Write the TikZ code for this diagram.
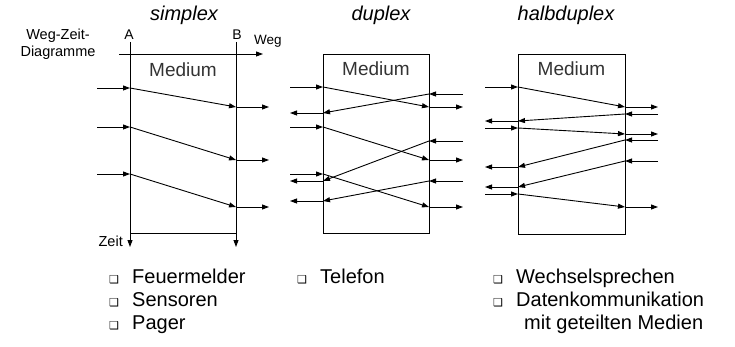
\documentclass[tikz,border=0pt]{standalone}
\usepackage{fontspec}
\setmainfont{Liberation Sans}
\newfontfamily\symfont{DejaVu Sans}
\usetikzlibrary{arrows.meta}
\newcommand\cb{{\symfont\fontsize{11}{11}\selectfont ❑}}
\begin{document}
\begin{tikzpicture}[x=1pt,y=-1pt,
  txt/.style={inner sep=0pt, anchor=base},
  ar/.style={line width=0.9pt, -{Triangle[length=7pt,width=5pt]}},
  ln/.style={line width=0.9pt},
  box/.style={draw, line width=0.9pt},
  title/.style={txt, font=\fontsize{20}{20}\selectfont\itshape},
  med/.style={txt, font=\fontsize{19}{19}\selectfont, text=black!80},
  lab/.style={txt, font=\fontsize{14.5}{14.5}\selectfont},
  item/.style={txt, anchor=base west, font=\fontsize{20}{20}\selectfont},
  chk/.style={txt, anchor=base west}]
\useasboundingbox (0,0) rectangle (735,347);

% titles
\node[title] (t1) at (184,21) {simplex};
\node[title] (t2) at (381,21) {duplex};
\node[title] (t3) at (566,21) {halbduplex};

% Weg-Zeit-Diagramme
\node[lab] (wz1) at (58,40) {Weg-Zeit-};
\node[lab] (wz2) at (58,57) {Diagramme};
\node[lab, font=\fontsize{14}{14}\selectfont] (la) at (129,40) {A};
\node[lab, font=\fontsize{14}{14}\selectfont] (lb) at (237,40) {B};
\node[lab, anchor=base west, font=\fontsize{13.5}{13.5}\selectfont] (lw) at (254,45) {Weg};
\node[lab, anchor=base east] (lz) at (123,246) {Zeit};

% simplex frame
\coordinate (Atop) at (130,42); \coordinate (Abot) at (130,247);
\coordinate (Btop) at (236,42); \coordinate (Bbot) at (236,247);
\coordinate (Wl) at (119,54); \coordinate (Wr) at (263,54);
\coordinate (Ab) at (130,233); \coordinate (Bb) at (236,233);
\draw[ar] (Atop) -- (Abot);
\draw[ar] (Btop) -- (Bbot);
\draw[ar] (Wl) -- (Wr);
\draw[ln] (Ab) -- (Bb);
\node[med] (m1) at (183,77) {Medium};

% simplex arrows
\foreach \i/\ya/\yb in {1/88/107, 2/127/160, 3/174/207}{
  \coordinate (s\i a) at (97,\ya); \coordinate (s\i b) at (130,\ya);
  \coordinate (s\i c) at (236,\yb); \coordinate (s\i d) at (269,\yb);
  \draw[ar] (s\i a) -- (s\i b);
  \draw[ar] (s\i b) -- (s\i c);
  \draw[ar] (s\i c) -- (s\i d);
}

% duplex
\node[box, minimum width=106pt, minimum height=179pt, anchor=north west, inner sep=0] (d) at (323,54) {};
\node[med] (m2) at (376,76) {Medium};
\foreach \i/\ya/\yb in {1/87/107, 2/127/160, 3/174/207}{
  \coordinate (dl\i a) at (290,\ya); \coordinate (dl\i b) at (323,\ya);
  \coordinate (dl\i c) at (429,\yb); \coordinate (dl\i d) at (463,\yb);
  \draw[ar] (dl\i a) -- (dl\i b);
  \draw[ar] (dl\i b) -- (dl\i c);
  \draw[ar] (dl\i c) -- (dl\i d);
}
\foreach \i/\ya/\yb in {1/94/113, 2/141/181, 3/181/201}{
  \coordinate (dr\i a) at (463,\ya); \coordinate (dr\i b) at (429,\ya);
  \coordinate (dr\i c) at (323,\yb); \coordinate (dr\i d) at (290,\yb);
  \draw[ar] (dr\i a) -- (dr\i b);
  \draw[ar] (dr\i b) -- (dr\i c);
  \draw[ar] (dr\i c) -- (dr\i d);
}

% halbduplex
\node[box, minimum width=107pt, minimum height=180pt, anchor=north west, inner sep=0] (h) at (518,54) {};
\node[med] (m3) at (571.5,76) {Medium};
\foreach \i/\ya/\yb in {1/87/107, 2/128/134, 3/194/207}{
  \coordinate (hl\i a) at (485,\ya); \coordinate (hl\i b) at (518,\ya);
  \coordinate (hl\i c) at (625,\yb); \coordinate (hl\i d) at (658,\yb);
  \draw[ar] (hl\i a) -- (hl\i b);
  \draw[ar] (hl\i b) -- (hl\i c);
  \draw[ar] (hl\i c) -- (hl\i d);
}
\foreach \i/\ya/\yb in {1/114/121, 2/140/167, 3/161/187}{
  \coordinate (hr\i a) at (658,\ya); \coordinate (hr\i b) at (625,\ya);
  \coordinate (hr\i c) at (518,\yb); \coordinate (hr\i d) at (485,\yb);
  \draw[ar] (hr\i a) -- (hr\i b);
  \draw[ar] (hr\i b) -- (hr\i c);
  \draw[ar] (hr\i c) -- (hr\i d);
}

% lists
\foreach \n/\x/\y/\t in {a/132/283/Feuermelder, b/132/306/Sensoren, c/132/329/Pager,
                          d/320/283/Telefon,
                          e/516/283/Wechselsprechen, f/516/306/Datenkommunikation}{
  \node[chk] (c\n) at (\x-23,\y) {\cb};
  \node[item] (i\n) at (\x,\y) {\t};
}
\node[item] (ig) at (524,329) {mit geteilten Medien};
\end{tikzpicture}
\end{document}
